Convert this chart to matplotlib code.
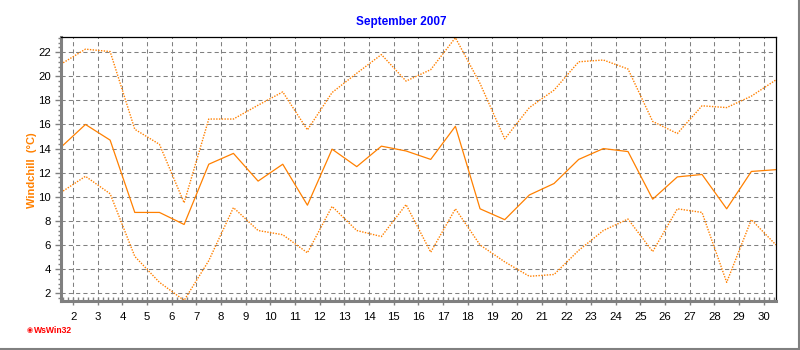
import matplotlib
matplotlib.use("Agg")
import matplotlib.pyplot as plt
from matplotlib.ticker import MultipleLocator, AutoMinorLocator
from matplotlib.lines import Line2D

# Police proche d'Arial
plt.rcParams['font.family'] = ['Liberation Sans', 'DejaVu Sans']

# Jours (valeurs tracées au milieu de chaque jour)
jours = [1.5, 2.5, 3.5, 4.5, 5.5, 6.5, 7.5, 8.5, 9.5, 10.5,
         11.5, 12.5, 13.5, 14.5, 15.5, 16.5, 17.5, 18.5, 19.5, 20.5,
         21.5, 22.5, 23.5, 24.5, 25.5, 26.5, 27.5, 28.5, 29.5, 30.5]

# Windchill maximum (pointillé haut)
windchill_max = [21.0, 22.25, 22.05, 15.6, 14.35, 9.5, 16.45, 16.45, 17.6, 18.7,
                 15.55, 18.65, 20.25, 21.8, 19.6, 20.55, 23.2, 19.4, 14.8, 17.4,
                 18.85, 21.2, 21.35, 20.6, 16.25, 15.25, 17.55, 17.4, 18.35, 19.7]

# Windchill moyen (trait plein)
windchill_moy = [14.1, 16.0, 14.7, 8.7, 8.7, 7.7, 12.7, 13.6, 11.3, 12.7,
                 9.3, 13.95, 12.5, 14.2, 13.8, 13.1, 15.85, 9.0, 8.1, 10.15,
                 11.1, 13.1, 14.0, 13.75, 9.8, 11.65, 11.85, 9.0, 12.1, 12.25]

# Windchill minimum (pointillé bas)
windchill_min = [10.35, 11.7, 10.25, 5.05, 2.9, 1.4, 4.7, 9.1, 7.2, 6.85,
                 5.35, 9.2, 7.2, 6.7, 9.35, 5.4, 9.0, 6.0, 4.6, 3.4,
                 3.55, 5.55, 7.2, 8.15, 5.45, 9.0, 8.7, 2.9, 8.1, 6.0]

etiquettes_jours = list(range(2, 31))

orange = '#FF8000'
gris = '#808080'

fig = plt.figure(figsize=(8, 3.5), dpi=100)
ax = fig.add_axes([0.076, 0.14, 0.894, 0.754])

# Courbes
ax.plot(jours, windchill_max, color=orange, lw=1.0, linestyle=(0, (1, 1)))
ax.plot(jours, windchill_moy, color=orange, lw=0.9, linestyle='-')
ax.plot(jours, windchill_min, color=orange, lw=1.0, linestyle=(0, (1, 1)))

ax.set_xlim(1.5, 30.5)
ax.set_ylim(1.35, 23.25)

# Axes et graduations
ax.set_xticks(etiquettes_jours)
ax.set_xticklabels([str(j) for j in etiquettes_jours])
ax.xaxis.set_minor_locator(AutoMinorLocator(5))
ax.yaxis.set_major_locator(MultipleLocator(2))
ax.yaxis.set_minor_locator(AutoMinorLocator(5))
ax.tick_params(axis='x', which='major', direction='inout', length=6, width=1,
               color=gris, labelsize=8.2, pad=5)
ax.tick_params(axis='x', which='minor', direction='in', length=3, width=1, color=gris)
ax.tick_params(axis='y', which='major', direction='out', length=4, width=1,
               color=gris, labelsize=8.2, pad=3)
ax.tick_params(axis='y', which='minor', direction='out', length=2, width=1, color=gris)

# Grille pointillée grise
ax.grid(True, which='major', color=gris, linestyle=(0, (4, 3)), lw=0.75)

# Bords du graphique
ax.spines['left'].set_color(gris)
ax.spines['left'].set_linewidth(2.2)
ax.spines['bottom'].set_color(gris)
ax.spines['bottom'].set_linewidth(2.2)
ax.spines['top'].set_color('black')
ax.spines['top'].set_linewidth(0.9)
ax.spines['right'].set_color('black')
ax.spines['right'].set_linewidth(0.9)

# Titre et légende de l'axe
fig.text(0.501, 0.937, 'September 2007', color='#0000FF', fontsize=8.5,
         fontweight='bold', ha='center', va='center')
fig.text(0.04, 0.514, 'Windchill  (°C)', color=orange, fontsize=8,
         fontweight='bold', rotation=90, ha='center', va='center')

# Marque WsWin32
fig.text(0.0375, 0.055, '◉', color='red', fontsize=5, ha='center', va='center')
fig.text(0.043, 0.055, 'WsWin32', color='red', fontsize=6.2, fontweight='bold',
         ha='left', va='center')

# Cadre gris (ombre) à droite et en bas
fig.add_artist(Line2D([0, 1], [0.003, 0.003], transform=fig.transFigure, color=gris, lw=1.5))
fig.add_artist(Line2D([0.9985, 0.9985], [0, 1], transform=fig.transFigure, color=gris, lw=1.5))

fig.savefig('out.png', dpi=100)
